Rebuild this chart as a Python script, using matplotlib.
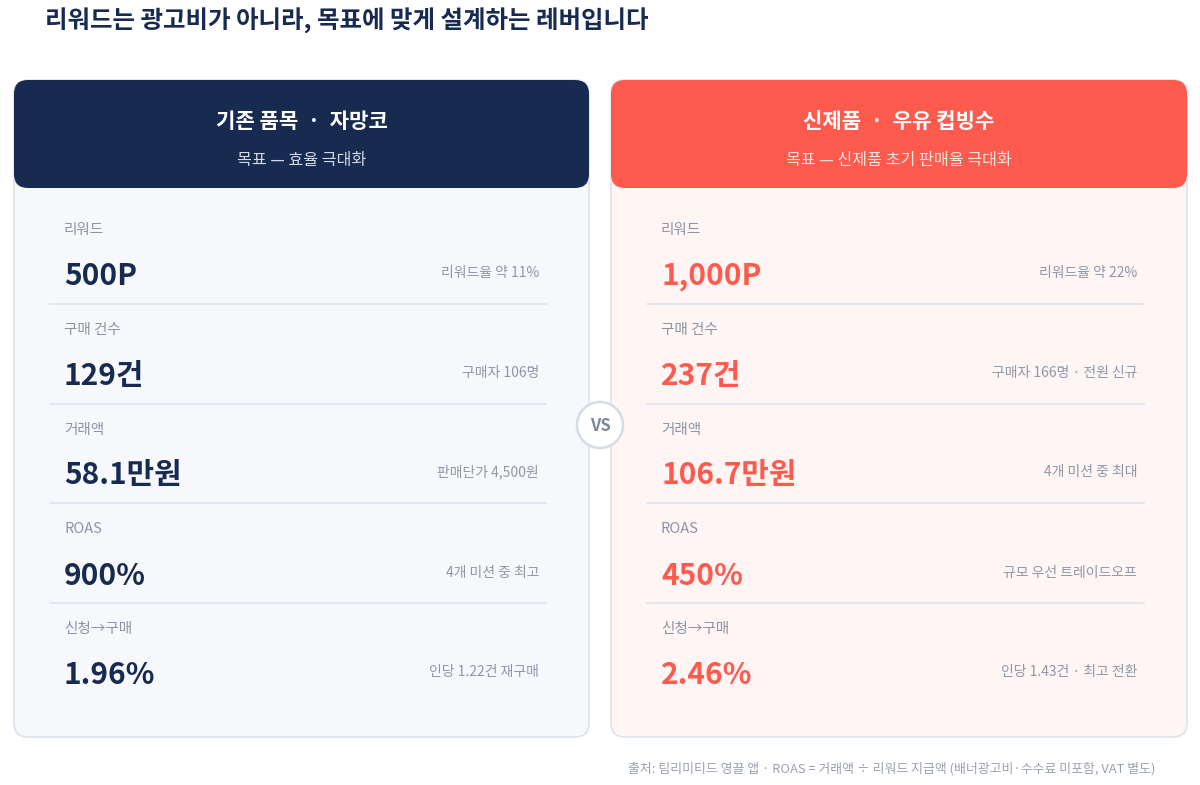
import matplotlib
matplotlib.use("Agg")
import matplotlib.pyplot as plt
from matplotlib.patches import FancyBboxPatch, Circle

plt.rcParams['font.family'] = ['Noto Sans CJK KR', 'DejaVu Sans']

title = "리워드는 광고비가 아니라, 목표에 맞게 설계하는 레버입니다"
card_titles = ["기존 품목  ·  자망코", "신제품  ·  우유 컵빙수"]
card_subtitles = ["목표 — 효율 극대화", "목표 — 신제품 초기 판매율 극대화"]
metric_labels = ["리워드", "구매 건수", "거래액", "ROAS", "신청→구매"]
left_values = ["500P", "129건", "58.1만원", "900%", "1.96%"]
right_values = ["1,000P", "237건", "106.7만원", "450%", "2.46%"]
left_notes = ["리워드율 약 11%", "구매자 106명", "판매단가 4,500원", "4개 미션 중 최고", "인당 1.22건 재구매"]
right_notes = ["리워드율 약 22%", "구매자 166명 · 전원 신규", "4개 미션 중 최대", "규모 우선 트레이드오프", "인당 1.43건 · 최고 전환"]
footer = "출처: 팀리미티드 영끌 앱 · ROAS = 거래액 ÷ 리워드 지급액 (배너광고비·수수료 미포함, VAT 별도)"

W, H = 1200, 785
fig = plt.figure(figsize=(12, 7.85), dpi=100)
ax = fig.add_axes([0, 0, 1, 1])
ax.set_xlim(0, W)
ax.set_ylim(H, 0)
ax.axis('off')
fig.patch.set_facecolor('white')

NAVY = '#172a50'
CORAL = '#ff5a4e'

ax.text(45, 21, title, fontsize=17.6, fontweight='bold', color=NAVY, ha='left', va='center')

cards = [
    dict(x0=14, x1=589, head=NAVY, body='#f7f8fc', val=NAVY, values=left_values, notes=left_notes,
         sub='#d3d9e5'),
    dict(x0=611, x1=1187, head=CORAL, body='#fff5f4', val=CORAL, values=right_values, notes=right_notes,
         sub='#ffe3e0'),
]
y_top, y_bot, head_bot = 80, 737, 188
label_y = [230, 330, 430, 529, 629]
value_y = [276, 376, 475, 576, 675]
div_y = [304, 404, 503, 603]

for i, c in enumerate(cards):
    x0, x1 = c['x0'], c['x1']
    body = FancyBboxPatch((x0, y_top), x1 - x0, y_bot - y_top,
                          boxstyle="round,pad=0,rounding_size=14",
                          facecolor=c['body'], edgecolor='#dde3ec', linewidth=1.2, zorder=1)
    ax.add_patch(body)
    head = FancyBboxPatch((x0, y_top), x1 - x0, head_bot - y_top,
                          boxstyle="round,pad=0,rounding_size=14",
                          facecolor=c['head'], edgecolor='none', zorder=2)
    ax.add_patch(head)
    cx = (x0 + x1) / 2
    ax.text(cx, 121, card_titles[i], fontsize=15.2, fontweight='bold', color='white',
            ha='center', va='center', zorder=3)
    ax.text(cx, 160, card_subtitles[i], fontsize=11.6, color=c['sub'],
            ha='center', va='center', zorder=3)
    lx = x0 + 50
    nx = x1 - 50
    for k in range(len(metric_labels)):
        ax.text(lx, label_y[k], metric_labels[k], fontsize=10.5, color='#8c94a3',
                ha='left', va='center', zorder=3)
        ax.text(lx, value_y[k], c['values'][k], fontsize=21.5, fontweight='bold', color=c['val'],
                ha='left', va='center', zorder=3)
        ax.text(nx, value_y[k] - 3, c['notes'][k], fontsize=10, color='#8f97a6',
                ha='right', va='center', zorder=3)
    for yy in div_y:
        ax.plot([x0 + 36, x1 - 43], [yy, yy], color='#dfe5ee', linewidth=1.3, zorder=3)

circ = Circle((600, 425), 23, facecolor='white', edgecolor='#d5dce6', linewidth=1.8, zorder=5)
ax.add_patch(circ)
ax.text(600, 426, "VS", fontsize=12, fontweight='bold', color='#7d879a',
        ha='center', va='center', zorder=6)

ax.text(1156, 769, footer, fontsize=9.3, color='#9aa1ae', ha='right', va='center')

fig.savefig('out.png', dpi=100, facecolor='white')
